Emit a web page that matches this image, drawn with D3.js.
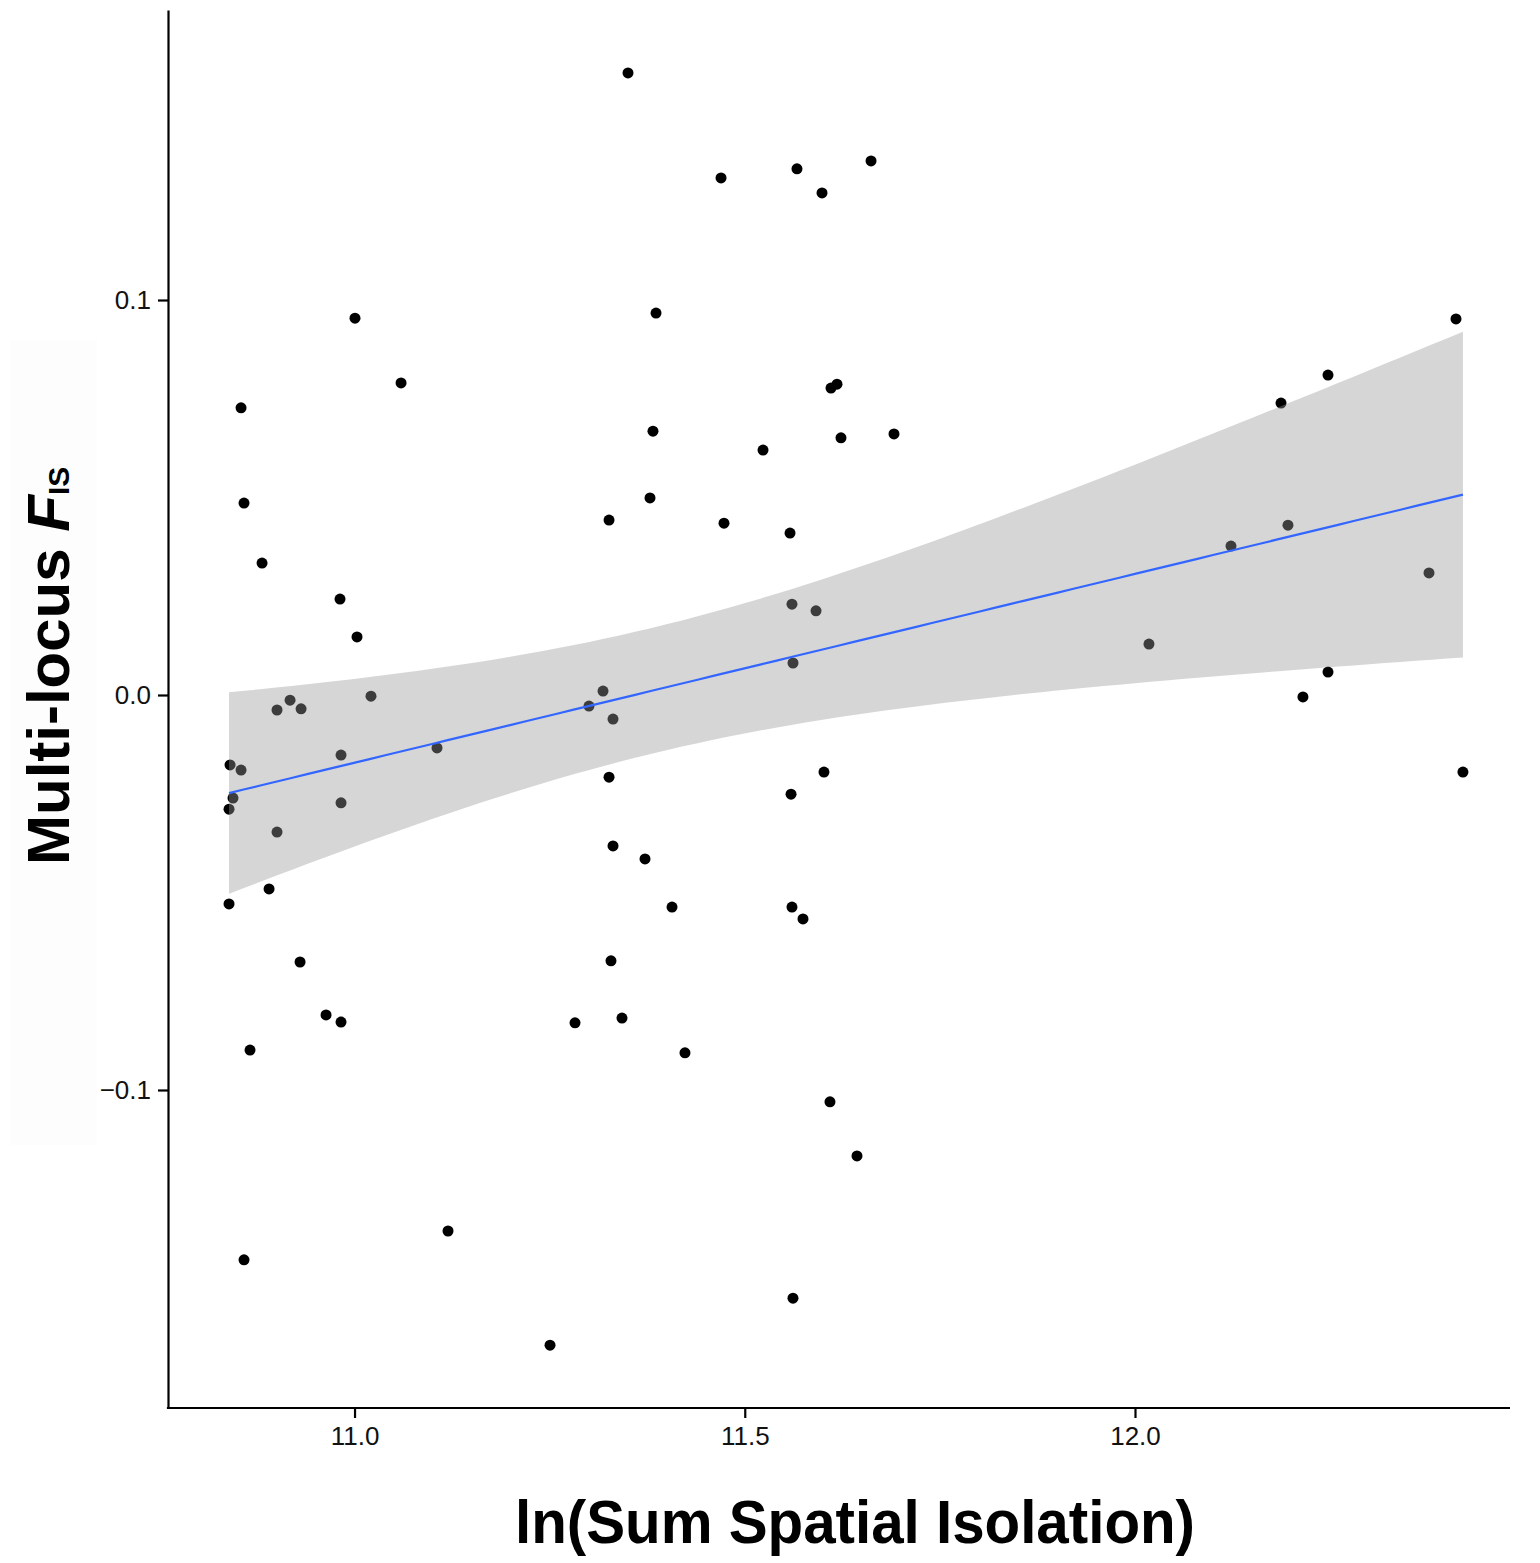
<!DOCTYPE html>
<html>
<head>
<meta charset="utf-8">
<script src="https://cdn.jsdelivr.net/npm/d3@7"></script>
<style>
  html, body { margin: 0; padding: 0; background: #fff; }
  svg { display: block; font-family: "Liberation Sans", Arial, Helvetica, sans-serif; }
</style>
</head>
<body>
<svg id="chart" width="1540" height="1563"></svg>
<script>
// ---- data ----
const spatialIsolation = [
  11.3504, 11.4696, 11.5669, 11.5990, 11.6618, 11.0006, 11.3863, 12.4113, 11.0596, 10.8546,
  11.6105, 11.6182, 12.2473, 12.1871, 11.3824, 11.6233, 11.6912, 11.5234, 10.8584, 11.3786,
  11.3261, 11.4734, 11.5580, 12.1960, 12.1230, 10.8815, 12.3767, 10.9814, 11.5605, 11.5913,
  11.0032, 12.0179, 11.5618, 12.2473, 11.0211, 11.3184, 12.2152, 10.9174, 10.9007, 10.9315,
  11.3004, 11.3312, 11.1057, 10.9827, 10.8405, 10.8546, 11.3261, 11.6015, 12.4202, 10.8443,
  11.5593, 10.8392, 10.9827, 10.9007, 11.3312, 11.3722, 10.8905, 10.8392, 11.4068, 11.5605,
  11.5746, 10.9302, 11.3286, 10.9635, 10.9827, 11.2825, 11.3427, 10.8661, 11.4234, 11.6092,
  11.6438, 11.1198, 10.8584, 11.5618, 11.2505
];
const fisValues = [
  0.1575, 0.1309, 0.1332, 0.1271, 0.1352, 0.0954, 0.0967, 0.0952, 0.0790, 0.0727,
  0.0777, 0.0787, 0.0810, 0.0739, 0.0668, 0.0651, 0.0661, 0.0620, 0.0486, 0.0499,
  0.0443, 0.0435, 0.0410, 0.0430, 0.0377, 0.0334, 0.0309, 0.0243, 0.0230, 0.0213,
  0.0147, 0.0129, 0.0081, 0.0058, -0.0003, 0.0010, -0.0005, -0.0013, -0.0038, -0.0035,
  -0.0028, -0.0061, -0.0134, -0.0152, -0.0177, -0.0190, -0.0208, -0.0195, -0.0195, -0.0261,
  -0.0251, -0.0289, -0.0273, -0.0347, -0.0382, -0.0415, -0.0491, -0.0529, -0.0537, -0.0537,
  -0.0567, -0.0676, -0.0673, -0.0810, -0.0828, -0.0830, -0.0818, -0.0899, -0.0906, -0.1030,
  -0.1167, -0.1357, -0.1430, -0.1527, -0.1646
];
const xTicks = [11.0, 11.5, 12.0];
const xTickLabels = ["11.0", "11.5", "12.0"];
const yTicks = [-0.1, 0.0, 0.1];
const yTickLabels = ["\u22120.1", "0.0", "0.1"];
const xDomain = [10.7610, 12.4805];
const yDomain = [-0.18051, 0.17342];
const tCrit = 1.993; // t(0.975, df = n - 2)

// ---- layout ----
const svg = d3.select("#chart");
const plotLeft = 168, plotRight = 1510, plotTop = 10, plotBottom = 1408;

const x = d3.scaleLinear().domain(xDomain).range([plotLeft, plotRight]);
const y = d3.scaleLinear().domain(yDomain).range([plotBottom, plotTop]);

const pts = spatialIsolation.map((v, i) => ({ x: v, y: fisValues[i] }));

// very faint background behind y title (as in the reference)
svg.append("rect").attr("x", 10).attr("y", 340).attr("width", 87).attr("height", 805)
  .attr("fill", "#fdfdfd");

// ---- points ----
svg.append("g").selectAll("circle").data(pts).join("circle")
  .attr("cx", d => x(d.x)).attr("cy", d => y(d.y)).attr("r", 5.5)
  .attr("fill", "#000");

// ---- linear fit + 95% CI ----
const n = pts.length;
const mx = d3.mean(pts, d => d.x), my = d3.mean(pts, d => d.y);
const sxx = d3.sum(pts, d => (d.x - mx) ** 2);
const sxy = d3.sum(pts, d => (d.x - mx) * (d.y - my));
const b1 = sxy / sxx, b0 = my - b1 * mx;
const sse = d3.sum(pts, d => (d.y - (b0 + b1 * d.x)) ** 2);
const s = Math.sqrt(sse / (n - 2));
const [xmin, xmax] = d3.extent(pts, d => d.x);
const grid = d3.range(80).map(i => xmin + (xmax - xmin) * i / 79);
const fit = grid.map(gx => {
  const yh = b0 + b1 * gx;
  const se = s * Math.sqrt(1 / n + (gx - mx) ** 2 / sxx);
  return { x: gx, y: yh, lo: yh - tCrit * se, hi: yh + tCrit * se };
});

svg.append("path").datum(fit)
  .attr("d", d3.area().x(d => x(d.x)).y0(d => y(d.lo)).y1(d => y(d.hi)))
  .attr("fill", "#999999").attr("fill-opacity", 0.4);

svg.append("path").datum(fit)
  .attr("d", d3.line().x(d => x(d.x)).y(d => y(d.y)))
  .attr("fill", "none").attr("stroke", "#3366FF").attr("stroke-width", 2.2);

// ---- axes ----
const xAxis = d3.axisBottom(x).tickValues(xTicks)
  .tickFormat((d, i) => xTickLabels[i]).tickSizeInner(10).tickSizeOuter(0).tickPadding(9);
const yAxis = d3.axisLeft(y).tickValues(yTicks)
  .tickFormat((d, i) => yTickLabels[i]).tickSizeInner(10).tickSizeOuter(0).tickPadding(7);

const gxAxis = svg.append("g").attr("transform", `translate(0,${plotBottom})`).call(xAxis);
const gyAxis = svg.append("g").attr("transform", `translate(${plotLeft},0)`).call(yAxis);

[gxAxis, gyAxis].forEach(g => {
  g.select(".domain").attr("stroke", "#000").attr("stroke-width", 2.2);
  g.selectAll(".tick line").attr("stroke", "#000").attr("stroke-width", 2.2);
  g.selectAll(".tick text").attr("fill", "#111")
    .style("font-size", "26px").style("font-family", "'Liberation Sans', Arial, sans-serif");
});
gxAxis.select(".domain").attr("d", `M${plotLeft - 1.1},0H${plotRight}`);

// ---- titles ----
svg.append("text")
  .attr("x", 515).attr("y", 1543)
  .attr("textLength", 680).attr("lengthAdjust", "spacingAndGlyphs")
  .style("font-size", "62px").style("font-weight", "bold").attr("fill", "#000")
  .text("ln(Sum Spatial Isolation)");

const yt = svg.append("text")
  .attr("transform", "translate(69,865) rotate(-90)")
  .style("font-size", "60px").style("font-weight", "bold").attr("fill", "#000");
yt.append("tspan").text("Multi-locus ");
yt.append("tspan").style("font-style", "italic").text("F");
yt.append("tspan").style("font-size", "30px").text("IS");
</script>
</body>
</html>
